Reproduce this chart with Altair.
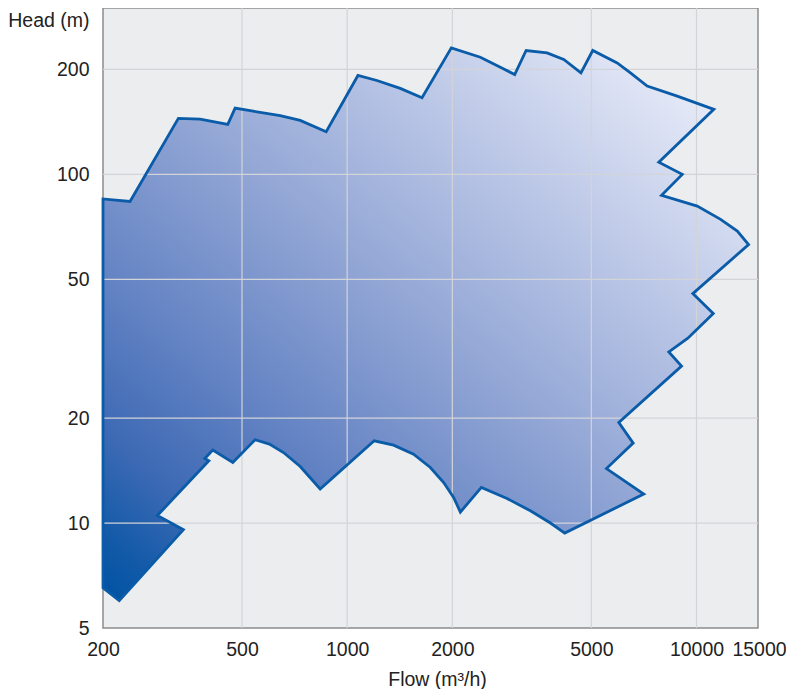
import altair as alt
import pandas as pd

# Outline of the pump coverage envelope (flow m3/h, head m), in drawing order
flow = [200, 200, 239.0, 328.7, 379.3, 455.3, 477.8, 538.1, 643.0, 733.8, 871.0,
        1073.6, 1216.6, 1419, 1637.9, 1987, 2406, 2745, 3017, 3253, 3735, 4169,
        4669, 5047, 5929, 6471, 7225, 8807, 11212, 7800, 9104, 7943, 10049, 11723,
        13088, 14097, 9761, 11169, 9445, 8333, 9062, 5993, 6588, 5525, 7064,
        4196, 3818, 3346, 2869, 2422, 2109, 2017, 1889, 1730, 1549, 1358, 1195,
        837, 733.8, 657.2, 599, 545, 470.6, 412.4, 391.2, 401.7, 286.2, 339.7, 222.6]
head = [6.52, 85.0, 83.6, 144.7, 144.0, 139.1, 154.9, 151.8, 147.4, 142.8, 132.5,
        192.1, 185.9, 176.4, 165.8, 230.6, 216.8, 203.0, 193.4, 226.6, 223.0, 213.5,
        195.5, 226.6, 208.8, 195.5, 179.1, 167.6, 153.6, 108.4, 100.0, 87.1, 81.1, 74.3,
        68.8, 62.9, 45.5, 39.9, 33.9, 30.96, 28.2, 19.43, 16.95, 14.33, 12.11,
        9.36, 10.0, 10.84, 11.76, 12.65, 10.75, 11.84, 13.07, 14.43, 15.76, 16.73, 17.21,
        12.52, 14.53, 15.93, 16.84, 17.33, 14.92, 16.19, 15.31, 15.08, 10.51, 9.57, 5.99]

x_ticks = [200, 500, 1000, 2000, 5000, 10000, 15000]
y_ticks = [5, 10, 20, 50, 100, 200]
grid_x = [500, 1000, 2000, 5000, 10000]
grid_y = [10, 20, 50, 100, 200]

df = pd.DataFrame({"flow": flow, "head": head, "idx": list(range(len(flow)))})
gx = pd.DataFrame({"flow": grid_x})
gy = pd.DataFrame({"head": grid_y})

FONT = "Liberation Sans"
LFS = 19.5
TFS = 19.5
xscale = alt.Scale(type="log", domain=[200, 15000], nice=False)
yscale = alt.Scale(type="log", domain=[5, 300], nice=False)

x_axis = alt.Axis(values=x_ticks, format="d", grid=False, ticks=False, domain=False,
                  labelFlush=False, labelPadding=12, labelFontSize=LFS, labelFont=FONT,
                  labelColor="#222222",
                  labelOffset={"condition": {"test": "datum.value == 15000", "value": 1},
                               "value": 0},
                  title="Flow (m³/h)", titleFont=FONT,
                  titleFontSize=TFS, titleFontWeight="normal", titleColor="#222222",
                  titleX=334, titleY=57, titleBaseline="alphabetic", titleAlign="center",
                  titleAnchor="start")
y_axis = alt.Axis(values=y_ticks, format="d", grid=False, ticks=False, domain=False,
                  labelFlush=False, labelPadding=14, labelFontSize=LFS, labelFont=FONT,
                  labelColor="#222222", labelBaseline="middle",
                  title="Head (m)", titleFont=FONT, titleFontSize=TFS,
                  titleFontWeight="normal", titleColor="#222222", titleAngle=0,
                  titleAlign="right", titleX=-14, titleY=18, titleBaseline="alphabetic",
                  titleAnchor="start")

gradient = {
    "gradient": "linear",
    "x1": 0, "y1": 1, "x2": 1, "y2": 0,
    "stops": [
        {"offset": 0.0, "color": "#0052A3"},
        {"offset": 0.06, "color": "#125AA8"},
        {"offset": 0.15, "color": "#3C69B4"},
        {"offset": 0.3, "color": "#6584C4"},
        {"offset": 0.5, "color": "#92A6D5"},
        {"offset": 0.7, "color": "#BAC6E6"},
        {"offset": 0.9, "color": "#E2E7F6"},
        {"offset": 1.0, "color": "#F2F4FC"},
    ],
}

X = alt.X("flow:Q", scale=xscale, axis=x_axis)
Y = alt.Y("head:Q", scale=yscale, axis=y_axis)

fill_layer = alt.Chart(df).mark_line(
    interpolate="linear-closed", fill=gradient, strokeOpacity=0
).encode(x=X, y=Y, order=alt.Order("idx:Q"))

vgrid = alt.Chart(gx).mark_rule(color="#D3D4D8", strokeWidth=1.2).encode(x=X)
hgrid = alt.Chart(gy).mark_rule(color="#D3D4D8", strokeWidth=1.2).encode(y=Y)

outline = alt.Chart(df).mark_line(
    interpolate="linear-closed", color="#0A5BA8", strokeWidth=2.8, strokeJoin="miter"
).encode(x=X, y=Y, order=alt.Order("idx:Q"))

chart = alt.layer(fill_layer, vgrid, hgrid, outline).properties(
    width=655, height=620,
    autosize=alt.AutoSizeParams(type="none"),
    padding={"left": 95, "top": 0, "right": 28, "bottom": 61},
    background="white",
).configure_view(
    fill="#ECEDEF", stroke="#8C8C8C", strokeWidth=1.5
)

chart.save("out.html", embed_options={"renderer": "svg", "actions": False})
